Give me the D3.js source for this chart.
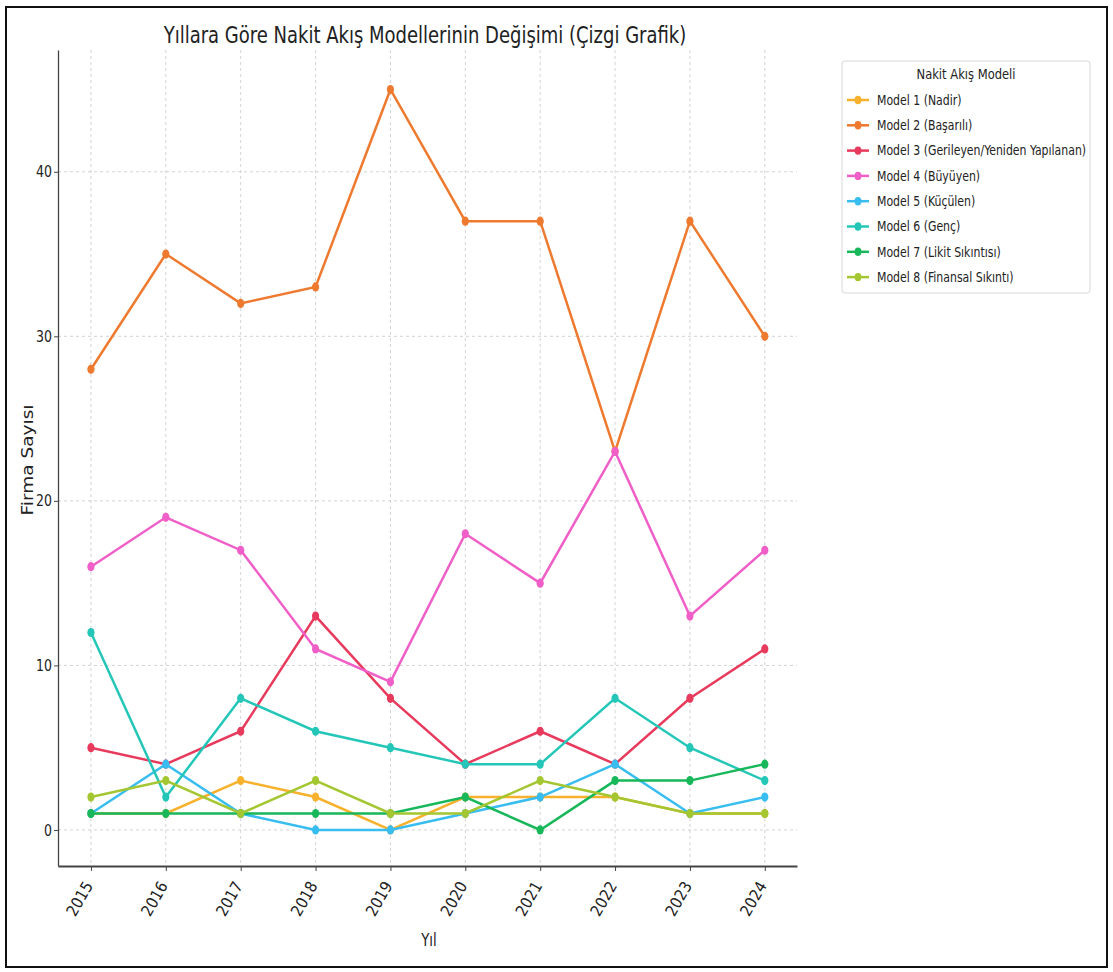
<!DOCTYPE html>
<html>
<head>
<meta charset="utf-8">
<script src="https://cdn.jsdelivr.net/npm/d3@7"></script>
<style>
  body { margin: 0; background: #fff; }
  svg text { font-family: "DejaVu Sans Condensed", "DejaVu Sans", sans-serif; fill: #222; }
</style>
</head>
<body>
<div id="chart"></div>
<script>
// data
const years = [2015, 2016, 2017, 2018, 2019, 2020, 2021, 2022, 2023, 2024]
const models = ["Model 1 (Nadir)", "Model 2 (Başarılı)", "Model 3 (Gerileyen/Yeniden Yapılanan)",
  "Model 4 (Büyüyen)", "Model 5 (Küçülen)", "Model 6 (Genç)", "Model 7 (Likit Sıkıntısı)", "Model 8 (Finansal Sıkıntı)"]
const model1 = [1, 1, 3, 2, 0, 2, 2, 2, 1, 1]
const model2 = [28, 35, 32, 33, 45, 37, 37, 23, 37, 30]
const model3 = [5, 4, 6, 13, 8, 4, 6, 4, 8, 11]
const model4 = [16, 19, 17, 11, 9, 18, 15, 23, 13, 17]
const model5 = [1, 4, 1, 0, 0, 1, 2, 4, 1, 2]
const model6 = [12, 2, 8, 6, 5, 4, 4, 8, 5, 3]
const model7 = [1, 1, 1, 1, 1, 2, 0, 3, 3, 4]
const model8 = [2, 3, 1, 3, 1, 1, 3, 2, 1, 1]
const yTicks = [0, 10, 20, 30, 40]
const colors = ["#f8b12c", "#ee7a30", "#e83a5c", "#f05ec8", "#38bdf0", "#24c6b8", "#17b75a", "#a4c630"]

const allSeries = [model1, model2, model3, model4, model5, model6, model7, model8]
  .map((vals, i) => ({ name: models[i], color: colors[i], values: years.map((y, j) => ({ year: y, value: vals[j] })) }))

const W = 1113, H = 972
const margin = { top: 50, right: 316, bottom: 106, left: 58 }
const width = W - margin.left - margin.right,
  height = H - margin.top - margin.bottom

// the original picture is squeezed sideways, so text gets a narrow look
const SQ = 0.87

const svg = d3.select("#chart").append("svg")
  .attr("width", W)
  .attr("height", H)

// outer frame
svg.append("rect")
  .attr("x", 6).attr("y", 7)
  .attr("width", 1101).attr("height", 960)
  .attr("fill", "none")
  .attr("stroke", "#111")
  .attr("stroke-width", 2)

const g = svg.append("g")
  .attr("transform", `translate(${margin.left},${margin.top})`)

const x = d3.scaleLinear()
  .domain([2014.56, 2024.43])
  .range([0, width])
const y = d3.scaleLinear()
  .domain([-2.19, 47.4])
  .range([height, 0])

// grid
g.append("g").selectAll("line")
  .data(years).join("line")
  .attr("x1", d => x(d)).attr("x2", d => x(d))
  .attr("y1", 0).attr("y2", height)
  .attr("stroke", "#c8c8c8").attr("stroke-width", 0.8)
  .attr("stroke-dasharray", "3,3")
g.append("g").selectAll("line")
  .data(yTicks).join("line")
  .attr("x1", 0).attr("x2", width)
  .attr("y1", d => y(d)).attr("y2", d => y(d))
  .attr("stroke", "#c8c8c8").attr("stroke-width", 0.8)
  .attr("stroke-dasharray", "3,3")

// axes
const xAxis = g.append("g")
  .attr("transform", `translate(0,${height})`)
  .call(d3.axisBottom(x).tickValues(years).tickFormat(d3.format("d")).tickSize(5).tickSizeOuter(0))
xAxis.select(".domain").attr("stroke", "#444").attr("stroke-width", 2)
xAxis.selectAll(".tick line").attr("stroke", "#444")
xAxis.selectAll("text")
  .style("font-size", "16px")
  .attr("text-anchor", "end")
  .attr("x", -16)
  .attr("y", 6)
  .attr("dy", "0.35em")
  .attr("transform", "rotate(-60)")

const yAxis = g.append("g")
  .call(d3.axisLeft(y).tickValues(yTicks).tickSize(4).tickSizeOuter(0))
yAxis.select(".domain").attr("stroke", "#444").attr("stroke-width", 1.3)
yAxis.selectAll(".tick line").attr("stroke", "#444")
yAxis.selectAll("text")
  .style("font-size", "16px")
  .attr("transform", `scale(${SQ},1)`)

// lines + markers
const line = d3.line()
  .x(d => x(d.year))
  .y(d => y(d.value))

const series = g.append("g").selectAll("g")
  .data(allSeries).join("g")
series.append("path")
  .attr("d", d => line(d.values))
  .attr("fill", "none")
  .attr("stroke", d => d.color)
  .attr("stroke-width", 2.5)
series.selectAll("ellipse")
  .data(d => d.values.map(v => ({ ...v, color: d.color })))
  .join("ellipse")
  .attr("cx", d => x(d.year))
  .attr("cy", d => y(d.value))
  .attr("rx", 3.6).attr("ry", 4.6)
  .attr("fill", d => d.color)

// title and axis labels
svg.append("text")
  .attr("transform", `translate(425,43) scale(${SQ},1)`)
  .attr("text-anchor", "middle")
  .style("font-size", "23px")
  .text("Yıllara Göre Nakit Akış Modellerinin Değişimi (Çizgi Grafik)")
svg.append("text")
  .attr("transform", `translate(429,946) scale(${SQ},1)`)
  .attr("text-anchor", "middle")
  .style("font-size", "17px")
  .text("Yıl")
svg.append("text")
  .attr("transform", `translate(33,460) scale(${SQ},1) rotate(-90)`)
  .attr("text-anchor", "middle")
  .style("font-family", "DejaVu Sans, sans-serif")
  .style("font-size", "18.5px")
  .text("Firma Sayısı")

// legend
const lg = svg.append("g").attr("transform", "translate(842,61)")
lg.append("rect")
  .attr("width", 248).attr("height", 232)
  .attr("rx", 3)
  .attr("fill", "#fff")
  .attr("stroke", "#d8d8d8")
lg.append("text")
  .attr("transform", "translate(124,18) scale(0.95,1)")
  .attr("text-anchor", "middle")
  .style("font-size", "13.5px")
  .text("Nakit Akış Modeli")
const item = lg.selectAll(".item")
  .data(allSeries).join("g")
  .attr("class", "item")
  .attr("transform", (d, i) => `translate(0,${39 + i * 25.3})`)
item.append("line")
  .attr("x1", 5).attr("x2", 27)
  .attr("stroke", d => d.color).attr("stroke-width", 2.5)
item.append("ellipse")
  .attr("cx", 16).attr("rx", 3.4).attr("ry", 4.2)
  .attr("fill", d => d.color)
item.append("text")
  .attr("transform", "translate(35,0) scale(0.9,1)")
  .attr("dy", "0.35em")
  .style("font-size", "13.5px")
  .text(d => d.name)
</script>
</body>
</html>
